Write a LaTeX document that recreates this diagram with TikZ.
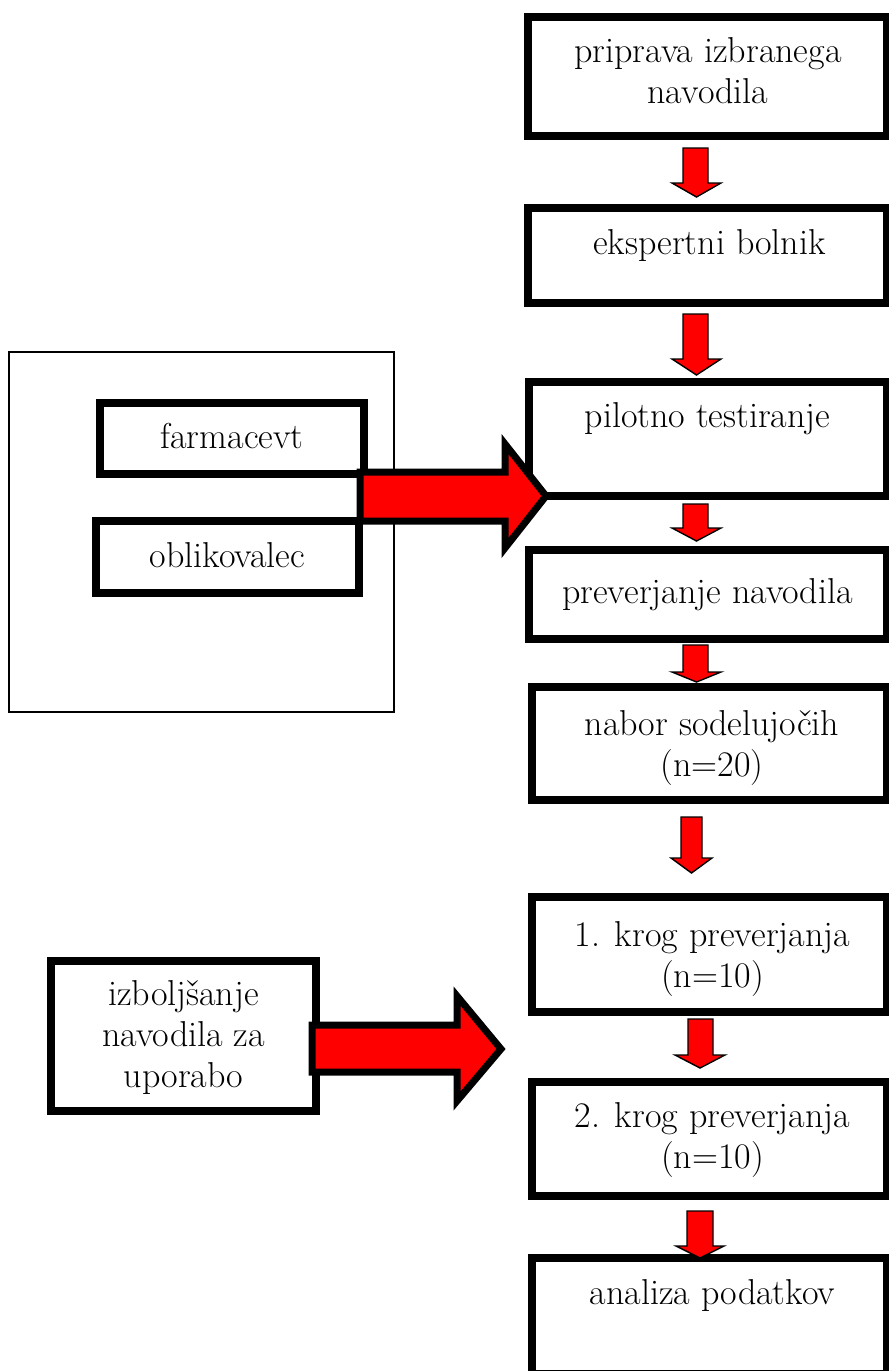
\documentclass[tikz,border=0pt]{standalone}
\usepackage{fontspec}
\usetikzlibrary{fit}
\begin{document}
\begin{tikzpicture}[x=1pt,y=-1pt,
  box/.style={draw=black, line width=8pt, inner sep=0pt, outer sep=0pt},
  frame/.style={draw=black, line width=1.3pt, inner sep=0pt, outer sep=0pt},
  txt/.style={inner sep=0pt, align=center, font=\fontsize{36}{41}\selectfont},
  bigarrow/.style={draw=black, fill=red, line width=7pt, miter limit=10},
  smallarrow/.style={draw=black, fill=red, line width=1.4pt}]
\useasboundingbox (0,0) rectangle (889,1371);

% left group
\node[frame, fit={(9,352) (394,712)}] (grp) {};
\node[box, fit={(100,403) (364,474)}] (farm) {};
\node[box, fit={(96,521) (359,593)}] (obl) {};
\node[txt, anchor=base] (tfarm) at (232,448) {farmacevt};
\node[txt, anchor=base] (tobl) at (227.5,567) {oblikovalec};

\node[box, fit={(51,961) (316,1111)}] (izb) {};
\node[txt, anchor=base] (tizb) at (183.5,1087) {izboljšanje\\navodila za\\uporabo};

% right column
\node[box, fit={(528,17) (887,136)}] (b1) {};
\node[box, fit={(528,208) (887,303)}] (b2) {};
\node[box, fit={(529,382) (887,496)}] (b3) {};
\node[box, fit={(529,550) (887,639)}] (b4) {};
\node[box, fit={(532,687) (887,800)}] (b5) {};
\node[box, fit={(532,897) (887,1012)}] (b6) {};
\node[box, fit={(532,1082) (887,1196)}] (b7) {};
\node[box, fit={(532,1258) (887,1374)}] (b8) {};

\node[txt, anchor=base] (t1) at (708,103) {priprava izbranega\\navodila};
\node[txt, anchor=base] (t2) at (709.5,254) {ekspertni bolnik};
\node[txt, anchor=base] (t3) at (707.5,427) {pilotno testiranje};
\node[txt, anchor=base] (t4) at (707.5,603) {preverjanje navodila};
\node[txt, anchor=base] (t5) at (712,776) {nabor sodelujočih\\(n=20)};
\node[txt, anchor=base] (t6) at (712.5,987) {1. krog preverjanja\\(n=10)};
\node[txt, anchor=base] (t7) at (712.5,1168) {2. krog preverjanja\\(n=10)};
\node[txt, anchor=base] (t8) at (712.5,1304) {analiza podatkov};

% small down arrows
\draw[smallarrow] (683,148)--(708,148)--(708,183)--(721,183)--(696.5,197)--(672,183)--(683,183)--cycle;
\draw[smallarrow] (683,314)--(708,314)--(708,359)--(721,359)--(696.5,375)--(672,359)--(683,359)--cycle;
\draw[smallarrow] (683,504)--(708,504)--(708,528)--(721,528)--(696.5,541)--(672,528)--(683,528)--cycle;
\draw[smallarrow] (683,645)--(708,645)--(708,672)--(721,672)--(696.5,682)--(672,672)--(683,672)--cycle;
\draw[smallarrow] (681,817)--(702,817)--(702,858)--(712,858)--(691.5,873)--(671,858)--(681,858)--cycle;
\draw[smallarrow] (688,1019)--(713,1019)--(713,1055)--(725,1055)--(700,1068)--(675,1055)--(688,1055)--cycle;
\draw[smallarrow] (687,1211)--(713,1211)--(713,1246)--(724,1246)--(700,1258)--(676,1246)--(687,1246)--cycle;

% big right arrows
\draw[bigarrow] (360,472)--(505,472)--(505,444)--(546,496)--(505,548)--(505,521)--(360,521)--cycle;
\draw[bigarrow] (312,1025)--(457,1025)--(457,996)--(501,1049)--(457,1101)--(457,1072)--(312,1072)--cycle;
\end{tikzpicture}
\end{document}
